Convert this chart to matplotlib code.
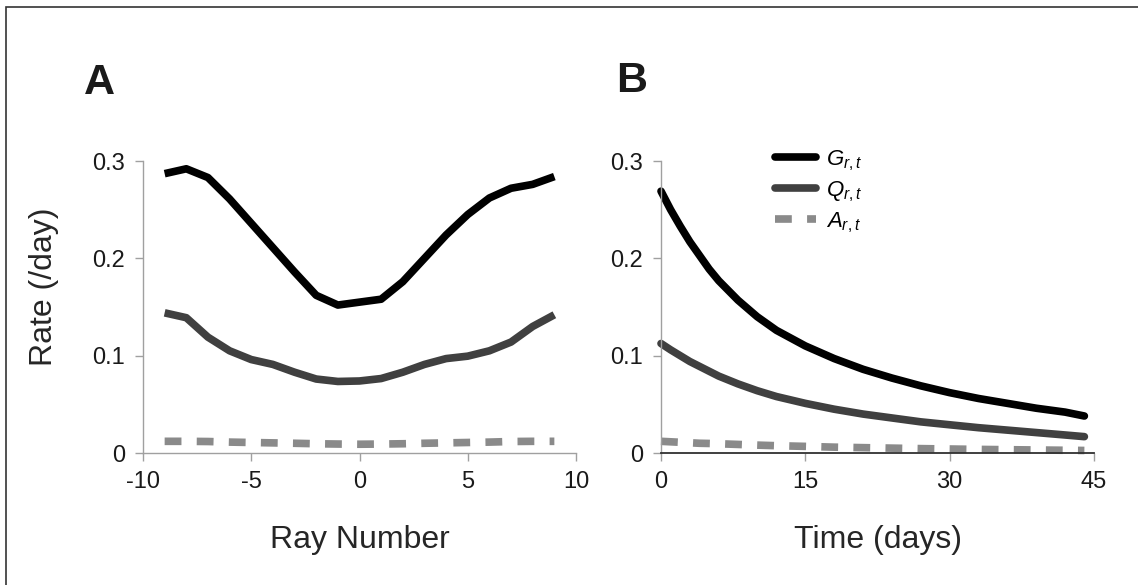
import matplotlib
matplotlib.use('Agg')
import matplotlib.pyplot as plt
from matplotlib.patches import Rectangle

plt.rcParams['font.family'] = ['Liberation Sans', 'DejaVu Sans']
plt.rcParams['mathtext.fontset'] = 'custom'
plt.rcParams['mathtext.it'] = 'Liberation Sans:italic'
plt.rcParams['mathtext.rm'] = 'Liberation Sans'
plt.rcParams['axes.unicode_minus'] = False

# panel A: rates by ray number
rays = [-9, -8, -7, -6, -5, -4, -3, -2, -1, 0, 1, 2, 3, 4, 5, 6, 7, 8, 9]
g_ray = [0.287, 0.292, 0.283, 0.261, 0.236, 0.211, 0.186, 0.162, 0.152, 0.155,
         0.158, 0.176, 0.200, 0.224, 0.245, 0.262, 0.272, 0.276, 0.284]
q_ray = [0.144, 0.139, 0.119, 0.105, 0.096, 0.091, 0.083, 0.076, 0.0735, 0.074,
         0.0765, 0.083, 0.091, 0.097, 0.0995, 0.105, 0.114, 0.130, 0.142]
a_ray = [0.012, 0.012, 0.0118, 0.0112, 0.0108, 0.0104, 0.0100, 0.0095, 0.0092, 0.0090,
         0.0092, 0.0095, 0.0100, 0.0104, 0.0108, 0.0112, 0.0118, 0.012, 0.012]

# panel B: rates over time
days = [0, 1, 2, 3, 4, 5, 6, 8, 10, 12, 15, 18, 21, 24, 27, 30, 33, 36, 39, 42, 44]
g_time = [0.269, 0.250, 0.233, 0.217, 0.203, 0.189, 0.177, 0.157, 0.140, 0.126,
          0.110, 0.097, 0.086, 0.077, 0.069, 0.062, 0.056, 0.051, 0.046, 0.042, 0.038]
q_time = [0.1125, 0.106, 0.100, 0.094, 0.089, 0.084, 0.079, 0.071, 0.064, 0.058,
          0.051, 0.045, 0.040, 0.036, 0.032, 0.029, 0.026, 0.0235, 0.021, 0.0185, 0.0168]
a_time = [0.012, 0.0115, 0.011, 0.0105, 0.010, 0.0098, 0.0095, 0.0088, 0.0081, 0.0075,
          0.0068, 0.006, 0.0055, 0.005, 0.0045, 0.0041, 0.0037, 0.0034, 0.0031, 0.0028, 0.0026]

labels = ['$G_{r,t}$', '$Q_{r,t}$', '$A_{r,t}$']
colors = ['#000000', '#404040', '#8a8a8a']
lw = 5.5
dash = (0, (2.2, 2.0))

W, H = 1138, 585
fig = plt.figure(figsize=(W / 100, H / 100), dpi=100)
axA = fig.add_axes([143 / W, 1 - 453 / H, 433 / W, 292 / H])
axB = fig.add_axes([661 / W, 1 - 453 / H, 433 / W, 292 / H])

axA.plot(rays, g_ray, color=colors[0], lw=lw, solid_capstyle='butt', solid_joinstyle='round', clip_on=False)
axA.plot(rays, q_ray, color=colors[1], lw=lw, solid_capstyle='butt', solid_joinstyle='round', clip_on=False)
axA.plot(rays, a_ray, color=colors[2], lw=lw, linestyle=dash, clip_on=False)

axB.plot(days, g_time, color=colors[0], lw=lw, solid_capstyle='round', solid_joinstyle='round',
         label=labels[0], clip_on=False)
axB.plot(days, q_time, color=colors[1], lw=lw, solid_capstyle='round', solid_joinstyle='round',
         label=labels[1], clip_on=False)
axB.plot(days, a_time, color=colors[2], lw=lw, linestyle=dash, label=labels[2], clip_on=False)

for ax in (axA, axB):
    ax.set_ylim(0, 0.3)
    ax.set_yticks([0, 0.1, 0.2, 0.3])
    ax.set_yticklabels(['0', '0.1', '0.2', '0.3'])
    for s in ('top', 'right'):
        ax.spines[s].set_visible(False)
    for s in ('left', 'bottom'):
        ax.spines[s].set_color('#a0a0a0')
        ax.spines[s].set_linewidth(1.0)
    ax.tick_params(labelsize=17, length=6, width=1, color='#a0a0a0',
                   labelcolor='#1a1a1a')
    ax.tick_params(axis='y', pad=7)
    ax.tick_params(axis='x', pad=7)

axA.set_xlim(-10, 10)
axA.set_xticks([-10, -5, 0, 5, 10])
axB.set_xlim(0, 45)
axB.set_xticks([0, 15, 30, 45])
axB.spines['bottom'].set_color('#303030')
axB.spines['bottom'].set_linewidth(1.3)

axA.set_ylabel('Rate (/day)', fontsize=23, color='#262626', va='center')
axA.yaxis.set_label_coords(-0.228, 0.568)
axA.set_xlabel('Ray Number', fontsize=23, color='#262626', va='center')
axA.xaxis.set_label_coords(0.5, -0.298)
axB.set_xlabel('Time (days)', fontsize=23, color='#262626', va='center')
axB.xaxis.set_label_coords(0.5, -0.298)

axB.legend(loc='upper left', bbox_to_anchor=(775 / W, 1 - 148 / H),
           bbox_transform=fig.transFigure, frameon=False, fontsize=16,
           handlelength=1.85, handletextpad=0.45, labelspacing=0.3,
           borderpad=0, borderaxespad=0)

fig.text(84 / W, 1 - 94 / H, 'A', fontsize=31, weight='bold', color='#1a1a1a', va='baseline')
fig.text(616 / W, 1 - 92 / H, 'B', fontsize=31, weight='bold', color='#1a1a1a', va='baseline')

fig.add_artist(Rectangle((6 / W, -0.1), 1.2, 1.1 - 7 / H, transform=fig.transFigure,
                         fill=False, ec='#333333', lw=1.2))

fig.savefig('out.png', dpi=100)
